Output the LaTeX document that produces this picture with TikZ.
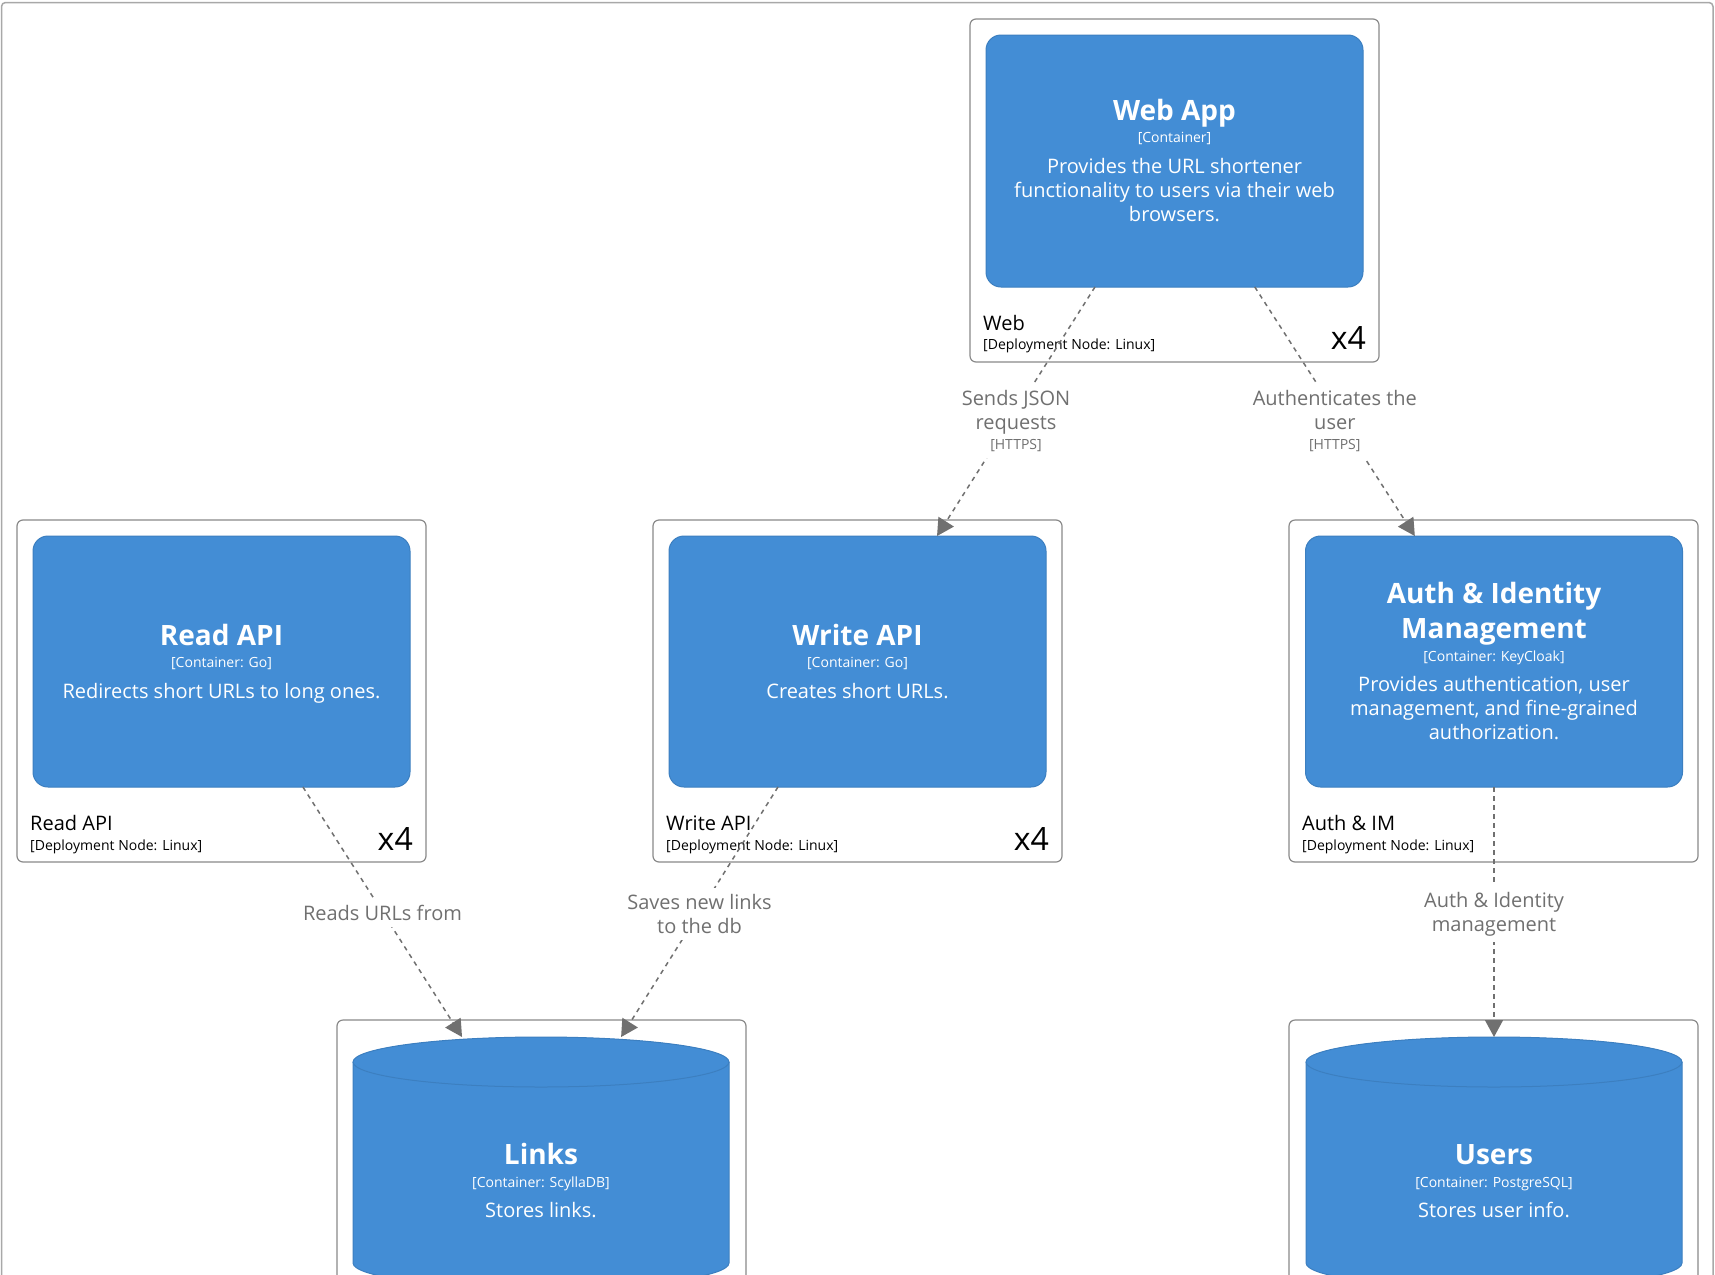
\documentclass[tikz,border=0pt]{standalone}
\usepackage{fontspec}
\setmainfont{Open Sans}
\usetikzlibrary{arrows.meta,calc}
\definecolor{cblue}{HTML}{438DD5}
\definecolor{cbord}{HTML}{3C7FC0}
\definecolor{lgray}{HTML}{707070}
\definecolor{dgray}{HTML}{8A8A8A}
\definecolor{fgray}{HTML}{A8A8A8}
\tikzset{
 depnode/.style={draw=dgray, line width=1.2pt, rounded corners=6pt, fill=white, inner sep=0pt, outer sep=0pt},
 contbox/.style={draw=cbord, line width=1pt, fill=cblue, rounded corners=15pt, inner sep=0pt, outer sep=0pt, minimum width=377pt, minimum height=251pt},
 cylanchor/.style={inner sep=0pt, outer sep=0pt, minimum width=376pt, minimum height=251pt},
 ttl/.style={anchor=base, text=white, font=\fontsize{28}{34}\selectfont\bfseries, inner sep=0pt},
 meta/.style={anchor=base, text=white, font=\fontsize{14}{17}\selectfont, inner sep=0pt},
 desc/.style={anchor=base, text=white, font=\fontsize{20}{24}\selectfont, inner sep=0pt},
 depname/.style={anchor=base west, text=black, font=\fontsize{20}{24}\selectfont, inner sep=0pt},
 depmeta/.style={anchor=base west, text=black, font=\fontsize{14}{17}\selectfont, inner sep=0pt},
 inst/.style={anchor=base east, text=black, font=\fontsize{32}{38}\selectfont, inner sep=0pt},
 rel/.style={draw=lgray, line width=1.5pt, dash pattern=on 4.5pt off 4.5pt, -{Triangle[length=17pt,width=18pt]}},
 rlbl/.style={fill=white, text=lgray, font=\fontsize{20}{24}\selectfont, align=center, inner xsep=3pt, inner ysep=6pt},
}
\newcommand{\techtxt}[1]{{\fontsize{14}{16}\selectfont #1}}
\begin{document}
\begin{tikzpicture}[x=1pt,y=-1pt]
\useasboundingbox (0,0) rectangle (1715,1274);
\clip (0,0) rectangle (1715,1274);
\fill[white] (0,0) rectangle (1715,1274);
% outer frame
\draw[fgray, line width=1.5pt, rounded corners=4pt] (1.5,1290) -- (1.5,2.5) -- (1713,2.5) -- (1713,1290);

% deployment nodes
\node[depnode, minimum width=409pt, minimum height=343pt] (webdep) at (1174.5,190.5) {};
\node[depnode, minimum width=409pt, minimum height=342pt] (readdep) at (221.5,691) {};
\node[depnode, minimum width=409pt, minimum height=342pt] (writedep) at (857.5,691) {};
\node[depnode, minimum width=409pt, minimum height=342pt] (authdep) at (1493.5,691) {};
\node[depnode, minimum width=409pt, minimum height=380pt] (linksdep) at (541.5,1210) {};
\node[depnode, minimum width=409pt, minimum height=380pt] (usersdep) at (1493.5,1210) {};

% deployment labels
\node[depname] (webdepn) at (983,330) {Web};
\node[depmeta] (webdepm) at (983,349) {[Deployment Node: Linux]};
\node[inst] (webdepx) at (1366,349) {x4};
\node[depname] (readdepn) at (30,830) {Read API};
\node[depmeta] (readdepm) at (30,850) {[Deployment Node: Linux]};
\node[inst] (readdepx) at (413,850) {x4};
\node[depname] (writedepn) at (666,830) {Write API};
\node[depmeta] (writedepm) at (666,850) {[Deployment Node: Linux]};
\node[inst] (writedepx) at (1049,850) {x4};
\node[depname] (authdepn) at (1302,830) {Auth \& IM};
\node[depmeta] (authdepm) at (1302,850) {[Deployment Node: Linux]};

% containers
\node[contbox, minimum height=252pt] (webapp) at (1174.5,161) {};
\node[contbox] (readapi) at (221.5,661.5) {};
\node[contbox] (writeapi) at (857.5,661.5) {};
\node[contbox] (auth) at (1494,661.5) {};

% cylinders
\foreach \cx/\nm in {541/links,1494/users}{
  \fill[cblue] (\cx-188,1062) -- (\cx-188,1263) arc[start angle=180,end angle=360,x radius=188pt,y radius=25pt] -- (\cx+188,1062) arc[start angle=0,end angle=180,x radius=188pt,y radius=25pt] -- cycle;
  \draw[cbord, line width=1pt] (\cx-188,1062) -- (\cx-188,1263) arc[start angle=180,end angle=360,x radius=188pt,y radius=25pt] -- (\cx+188,1062);
  \draw[cbord, line width=1pt, fill=cblue] (\cx,1062) ellipse [x radius=188pt, y radius=25pt];
}
\node[cylanchor] (links) at (541,1162.5) {};
\node[cylanchor] (users) at (1494,1162.5) {};

% container texts
\node[ttl] (webappT) at (1174.5,120) {Web App};
\node[meta] (webappM) at (1174.5,142) {[Container]};
\node[desc] (webappD1) at (1174.5,173) {Provides the URL shortener};
\node[desc] (webappD2) at (1174.5,197) {functionality to users via their web};
\node[desc] (webappD3) at (1174.5,221) {browsers.};

\node[ttl] (readT) at (221.5,645) {Read API};
\node[meta] (readM) at (221.5,667) {[Container: Go]};
\node[desc] (readD) at (221.5,698) {Redirects short URLs to long ones.};

\node[ttl] (writeT) at (857.5,645) {Write API};
\node[meta] (writeM) at (857.5,667) {[Container: Go]};
\node[desc] (writeD) at (857.5,698) {Creates short URLs.};

\node[ttl] (authT1) at (1494,603) {Auth \& Identity};
\node[ttl] (authT2) at (1494,638) {Management};
\node[meta] (authM) at (1494,661) {[Container: KeyCloak]};
\node[desc] (authD1) at (1494,691) {Provides authentication, user};
\node[desc] (authD2) at (1494,715) {management, and fine-grained};
\node[desc] (authD3) at (1494,739) {authorization.};

\node[ttl] (linksT) at (541,1164) {Links};
\node[meta] (linksM) at (541,1187) {[Container: ScyllaDB]};
\node[desc] (linksD) at (541,1217) {Stores links.};

\node[ttl] (usersT) at (1494,1164) {Users};
\node[meta] (usersM) at (1494,1187) {[Container: PostgreSQL]};
\node[desc] (usersD) at (1494,1217) {Stores user info.};

% connectors
\draw[rel] ($(webapp.south west)!0.289!(webapp.south east)$) -- node[rlbl, pos=0.5, yshift=-10pt] (l1) {Sends JSON\\requests\\[-4pt]\techtxt{[HTTPS]}} ($(writeapi.north west)!0.711!(writeapi.north east)$);
\draw[rel] ($(webapp.south west)!0.713!(webapp.south east)$) -- node[rlbl, pos=0.5, yshift=-10pt] (l2) {Authenticates the\\user\\[-4pt]\techtxt{[HTTPS]}} ($(auth.north west)!0.29!(auth.north east)$);
\draw[rel] ($(readapi.south west)!0.716!(readapi.south east)$) -- node[rlbl, pos=0.5, yshift=-1pt] (l3) {Reads URLs from} ($(links.north west)!0.29!(links.north east)$);
\draw[rel] ($(writeapi.south west)!0.289!(writeapi.south east)$) -- node[rlbl, pos=0.5, yshift=-2pt] (l4) {Saves new links\\to the db} ($(links.north west)!0.713!(links.north east)$);
\draw[rel] (auth.south) -- node[rlbl, pos=0.5, yshift=-2pt] (l5) {Auth \& Identity\\management} (users.north);
\end{tikzpicture}
\end{document}
